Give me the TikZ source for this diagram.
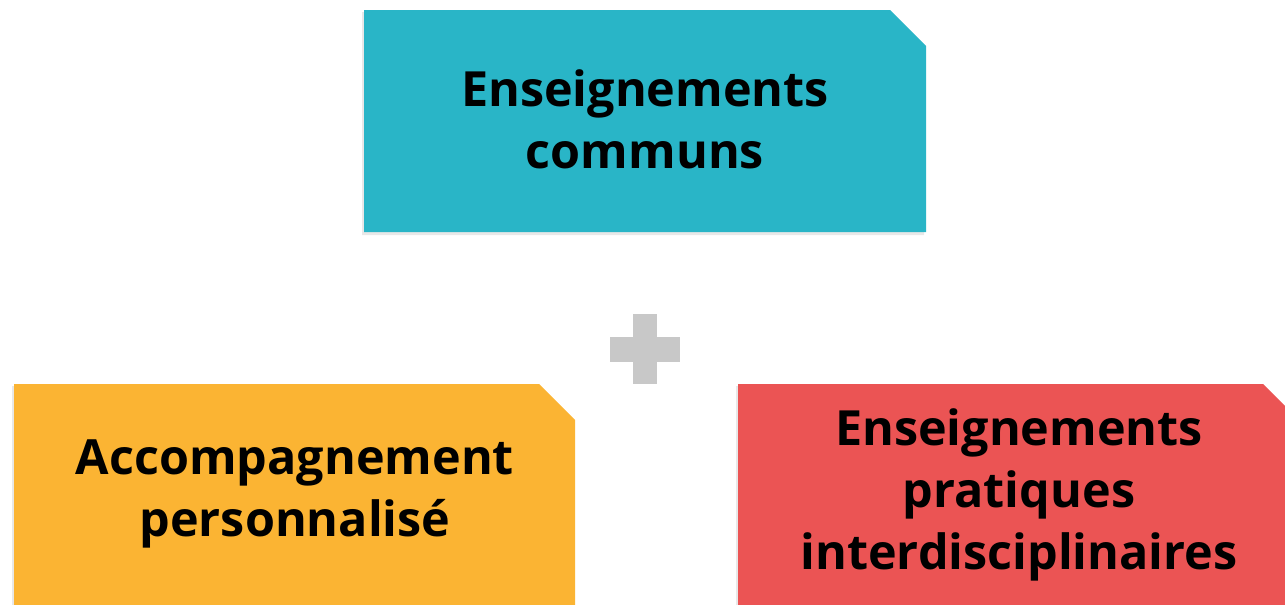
\documentclass[tikz,border=0pt]{standalone}
\usepackage{fontspec}
\setmainfont{Open Sans}
\definecolor{teal1}{HTML}{29B5C7}
\definecolor{orange1}{HTML}{FBB433}
\definecolor{red1}{HTML}{EB5454}
\definecolor{plusgray}{HTML}{C8C8C8}
\begin{document}
\begin{tikzpicture}[x=1pt,y=-1pt,
  lbl/.style={align=center,font=\fontsize{48.5}{62}\selectfont\bfseries,text=black,inner sep=0pt},
  shadowfill/.style={fill=black!9,draw=none}]
\useasboundingbox (0,0) rectangle (1285,605);
\clip (0,0) rectangle (1285,605);
% top box
\fill[shadowfill] (362,12) -- (888,12) -- (924,48) -- (924,235) -- (362,235) -- cycle;
\fill[teal1] (364,10) -- (890,10) -- (926,46) -- (926,232) -- (364,232) -- cycle;
\node[lbl] (top) at (645,119) {Enseignements\\communs};
% plus
\fill[plusgray] (633,314) rectangle (657,384);
\fill[plusgray] (610,337) rectangle (680,362);
% left box
\fill[shadowfill] (12,386) -- (537,386) -- (573,422) -- (573,610) -- (12,610) -- cycle;
\fill[orange1] (14,384) -- (539,384) -- (575,420) -- (575,610) -- (14,610) -- cycle;
\node[lbl] (left) at (295,494) {Accompagnement\\personnalisé};
% right box
\fill[shadowfill] (736,386) -- (1261,386) -- (1297,422) -- (1297,610) -- (736,610) -- cycle;
\fill[red1] (738,384) -- (1263,384) -- (1299,420) -- (1299,610) -- (738,610) -- cycle;
\node[lbl] (right) at (1019,495) {Enseignements\\pratiques\\interdisciplinaires};
\end{tikzpicture}
\end{document}
